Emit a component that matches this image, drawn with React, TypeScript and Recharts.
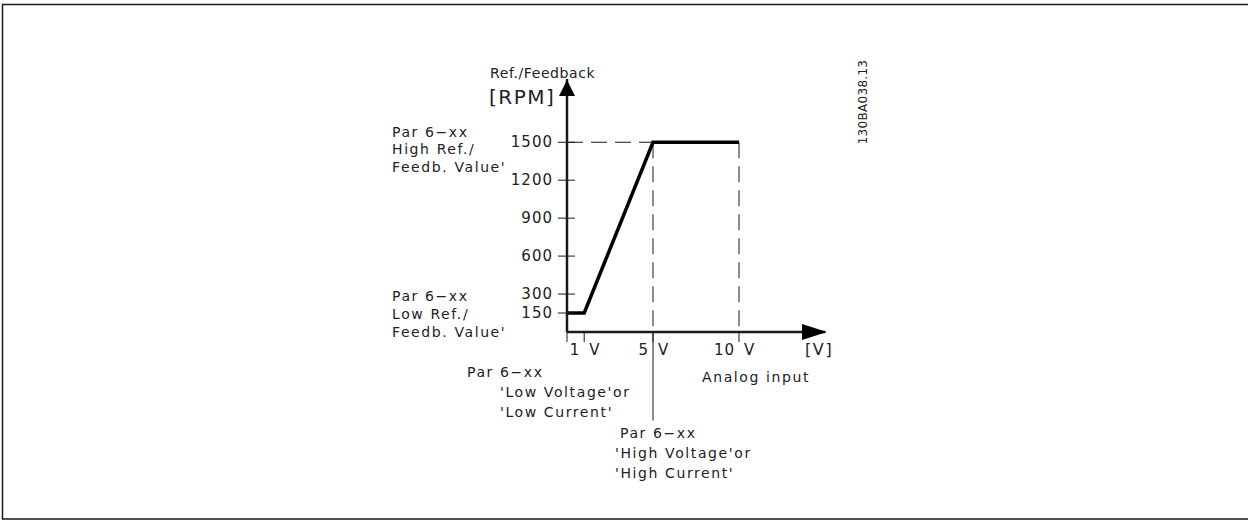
import React from 'react';
import { LineChart, Line, XAxis, YAxis, ReferenceLine, ReferenceDot } from 'recharts';

// analog input (V) vs. reference / feedback (RPM)
const voltage = [0, 1, 5, 10];
const rpm = [150, 150, 1500, 1500];
const yTicks = [150, 300, 600, 900, 1200, 1500];
const xTicks = [0, 1, 5, 10];
const xTickLabels: Record<number, string> = { 1: '1', 5: '5', 10: '10' };

const data = voltage.map((v, i) => ({ v, rpm: rpm[i] }));

const FONT = '"DejaVu Sans", "Liberation Sans", sans-serif';
const INK = '#1a1a1a';

const textStyle = { fontFamily: FONT, fontSize: 14, fill: '#222', letterSpacing: 1.6 };
const tickStyle = { ...textStyle, fontSize: 15, letterSpacing: 1 };

const YTick = (props: any) => {
  const { x, y, payload } = props;
  return (
    <g>
      <line x1={x + 5} x2={x + 22} y1={y} y2={y} stroke={INK} strokeWidth={1} />
      <text x={x} y={y} dy={5} textAnchor="end" style={tickStyle}>
        {payload.value}
      </text>
    </g>
  );
};

const XTick = (props: any) => {
  const { x, y, payload } = props;
  const label = xTickLabels[payload.value];
  return (
    <g>
      <line x1={x} x2={x} y1={y - 10} y2={y} stroke={INK} strokeWidth={1} />
      {label && (
        <>
          <text x={x - 4} y={y + 13} textAnchor="end" style={tickStyle}>
            {label}
          </text>
          <text x={x + 5} y={y + 13} textAnchor="start" style={tickStyle}>
            V
          </text>
        </>
      )}
    </g>
  );
};

const Notes = () => (
  <svg
    width={1248}
    height={520}
    style={{ position: 'absolute', left: 0, top: 0, pointerEvents: 'none' }}
  >
    <path d="M1248 4.5 H2.5 V519 H1248" fill="none" stroke={INK} strokeWidth={1.5} />
    <g style={textStyle}>
      <text x={490} y={78} style={{ ...textStyle, letterSpacing: 0.6 }}>Ref./Feedback</text>
      <text x={489} y={104} style={{ ...textStyle, fontSize: 20, letterSpacing: 1.5 }}>[RPM]</text>

      <text x={392} y={137}>Par 6−xx</text>
      <text x={392} y={154}>High Ref./</text>
      <text x={392} y={172}>Feedb. Value'</text>

      <text x={392} y={301}>Par 6−xx</text>
      <text x={392} y={319}>Low Ref./</text>
      <text x={392} y={337}>Feedb. Value'</text>

      <text x={805} y={355} style={{ ...textStyle, fontSize: 16 }}>[V]</text>
      <text x={702} y={382}>Analog input</text>

      <text x={467} y={377}>Par 6−xx</text>
      <text x={500} y={397}>'Low Voltage'or</text>
      <text x={500} y={417}>'Low Current'</text>

      <text x={620} y={438}>Par 6−xx</text>
      <text x={615} y={458}>'High Voltage'or</text>
      <text x={615} y={478}>'High Current'</text>

      <text
        x={863}
        y={106}
        textAnchor="middle"
        transform="rotate(-90 863 102)"
        style={{ ...textStyle, fontSize: 12, letterSpacing: 0.3 }}
      >
        130BA038.13
      </text>
    </g>
  </svg>
);

export default function App() {
  return (
    <div style={{ position: 'absolute', left: 0, top: 0, width: 1248, height: 520, background: '#fff' }}>
      <LineChart
        width={1248}
        height={520}
        data={data}
        margin={{ top: 79, right: 423, bottom: 158, left: 507 }}
      >
        <XAxis
          type="number"
          dataKey="v"
          domain={[0, 15]}
          ticks={xTicks}
          interval={0}
          height={30}
          tickSize={10}
          tickMargin={0}
          tickLine={false}
          tick={<XTick />}
          axisLine={{ stroke: INK, strokeWidth: 2.5 }}
        />
        <YAxis
          type="number"
          domain={[0, 2000]}
          ticks={yTicks}
          interval={0}
          width={60}
          tickSize={9}
          tickMargin={5}
          tickLine={false}
          tick={<YTick />}
          axisLine={{ stroke: INK, strokeWidth: 2.5 }}
        />
        <ReferenceLine
          segment={[{ x: 0, y: 1500 }, { x: 5, y: 1500 }]}
          stroke={INK}
          strokeWidth={1}
          strokeDasharray="16 8"
        />
        <ReferenceLine
          segment={[{ x: 5, y: 1500 }, { x: 5, y: 0 }]}
          stroke={INK}
          strokeWidth={1}
          strokeDasharray="16 8"
        />
        <ReferenceLine
          segment={[{ x: 10, y: 1500 }, { x: 10, y: 0 }]}
          stroke={INK}
          strokeWidth={1}
          strokeDasharray="16 8"
        />
        {/* leader from 5 V down to the high-voltage note */}
        <ReferenceLine
          segment={[{ x: 5, y: 0 }, { x: 5, y: -700 }]}
          stroke={INK}
          strokeWidth={1}
          ifOverflow="visible"
        />
        <Line
          type="linear"
          dataKey="rpm"
          stroke="#000"
          strokeWidth={3.5}
          dot={false}
          isAnimationActive={false}
        />
        {/* axis arrow heads */}
        <ReferenceDot
          x={0}
          y={2000}
          ifOverflow="visible"
          shape={(p: any) => (
            <polygon
              points={`${p.cx},${p.cy + 1} ${p.cx - 8},${p.cy + 17} ${p.cx + 8},${p.cy + 17}`}
              fill="#000"
            />
          )}
        />
        <ReferenceDot
          x={15}
          y={0}
          ifOverflow="visible"
          shape={(p: any) => (
            <polygon
              points={`${p.cx + 2},${p.cy} ${p.cx - 23},${p.cy - 8} ${p.cx - 23},${p.cy + 8}`}
              fill="#000"
            />
          )}
        />
      </LineChart>
      <Notes />
    </div>
  );
}
